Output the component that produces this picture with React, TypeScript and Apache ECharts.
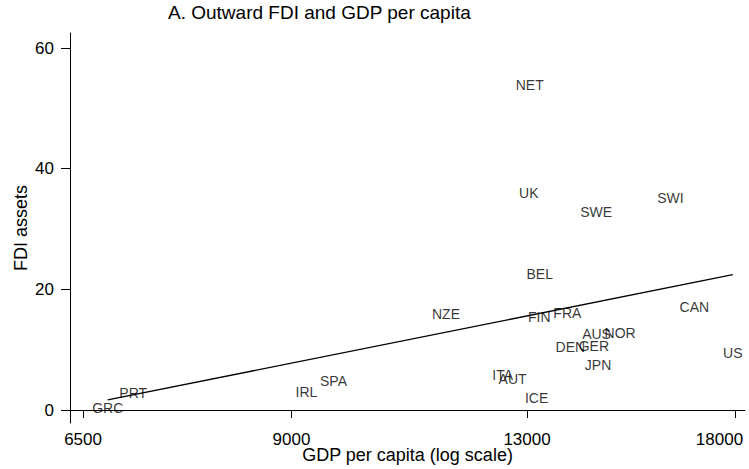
import { useRef, useEffect } from 'react';
import * as echarts from 'echarts';

// values
const countries = ['GRC', 'PRT', 'IRL', 'SPA', 'NZE', 'ITA', 'AUT', 'UK', 'NET', 'ICE', 'FIN', 'BEL', 'FRA', 'DEN', 'GER', 'SWE', 'AUS', 'JPN', 'NOR', 'SWI', 'CAN', 'US'];
const gdpPerCapita = [6755, 7030, 9212, 9610, 11455, 12515, 12710, 13035, 13055, 13195, 13250, 13260, 13845, 13910, 14430, 14480, 14490, 14525, 15035, 16262, 16880, 17925];
const fdiAssets = [0.3, 2.8, 3.0, 4.8, 15.9, 5.8, 5.1, 36.0, 53.9, 2.0, 15.4, 22.5, 16.1, 10.4, 10.6, 32.8, 12.6, 7.5, 12.8, 35.1, 17.1, 9.4];
const xTicks = [6500, 9000, 13000, 18000];
const yTicks = [0, 20, 40, 60];

const FONT = '"Liberation Sans", Arial, Helvetica, sans-serif';

export default function App() {
  const chartRef = useRef<HTMLDivElement>(null);

  useEffect(() => {
    if (!chartRef.current) return;
    document.body.style.margin = '0';
    document.body.style.overflow = 'hidden';
    const chart = echarts.init(chartRef.current, undefined, { renderer: 'svg' });

    // log scale: plot ln(gdp) on a linear axis
    const lx = gdpPerCapita.map((g) => Math.log(g));

    // OLS fit of FDI assets on ln(GDP per capita)
    const n = lx.length;
    const mx = lx.reduce((a, b) => a + b, 0) / n;
    const my = fdiAssets.reduce((a, b) => a + b, 0) / n;
    let sxy = 0;
    let sxx = 0;
    lx.forEach((x, i) => {
      sxy += (x - mx) * (fdiAssets[i] - my);
      sxx += (x - mx) * (x - mx);
    });
    const slope = sxy / sxx;
    const xMin = Math.min(...lx);
    const xMax = Math.max(...lx);
    const fit = [xMin, xMax].map((x) => [x, my + slope * (x - mx)]);

    const lastTick = xTicks[xTicks.length - 1];

    chart.setOption({
      animation: false,
      title: {
        text: 'A. Outward FDI and GDP per capita',
        left: 168,
        top: 3,
        padding: 0,
        textStyle: { fontFamily: FONT, fontSize: 19, fontWeight: 'normal', color: '#000' },
      },
      grid: { left: 70, right: 4, top: 33, bottom: 46, outerBoundsMode: 'none', containLabel: false },
      xAxis: {
        type: 'value',
        min: Math.log(6369),
        max: Math.log(18270),
        name: 'GDP per capita (log scale)',
        nameLocation: 'middle',
        nameGap: 23,
        nameMoveOverlap: false,
        nameTextStyle: { fontFamily: FONT, fontSize: 18, color: '#000' },
        axisLine: { show: true, lineStyle: { color: '#000', width: 1 } },
        axisTick: {
          show: true,
          length: 8,
          lineStyle: { color: '#000' },
          customValues: xTicks.map((t) => Math.log(t)),
        },
        axisLabel: {
          customValues: xTicks.map((t) => Math.log(t)),
          formatter: (v: number) => {
            const t = Math.round(Math.exp(v));
            // last label is pushed left to stay inside the frame
            return t === lastTick ? `{last|${t}}` : String(t);
          },
          rich: {
            last: { fontFamily: FONT, fontSize: 17, color: '#000', padding: [0, 32, 0, 0] },
          },
          margin: 8,
          fontFamily: FONT,
          fontSize: 17,
          color: '#000',
        },
        splitLine: { show: false },
      },
      yAxis: {
        type: 'value',
        min: -2.15,
        max: 62.5,
        name: 'FDI assets',
        nameLocation: 'middle',
        nameGap: 40,
        nameMoveOverlap: false,
        nameTextStyle: { fontFamily: FONT, fontSize: 18, color: '#000' },
        axisLine: { show: true, lineStyle: { color: '#000', width: 1 } },
        axisTick: {
          show: true,
          length: 9,
          lineStyle: { color: '#000' },
          customValues: yTicks,
        },
        axisLabel: {
          customValues: yTicks,
          margin: 16,
          fontFamily: FONT,
          fontSize: 17,
          color: '#000',
        },
        splitLine: { show: false },
      },
      series: [
        {
          type: 'line',
          data: fit,
          showSymbol: false,
          lineStyle: { color: '#000', width: 1.3 },
          silent: true,
        },
        {
          type: 'scatter',
          symbolSize: 1,
          itemStyle: { color: 'rgba(0,0,0,0)' },
          data: countries.map((c, i) => ({ name: c, value: [lx[i], fdiAssets[i]] })),
          label: {
            show: true,
            position: 'inside',
            formatter: '{b}',
            fontFamily: FONT,
            fontSize: 14,
            color: '#000',
          },
        },
      ],
    });

    return () => {
      chart.dispose();
    };
  }, []);

  return (
    <div
      ref={chartRef}
      style={{ position: 'fixed', left: 0, top: 0, width: 749, height: 469, background: '#fff' }}
    />
  );
}
